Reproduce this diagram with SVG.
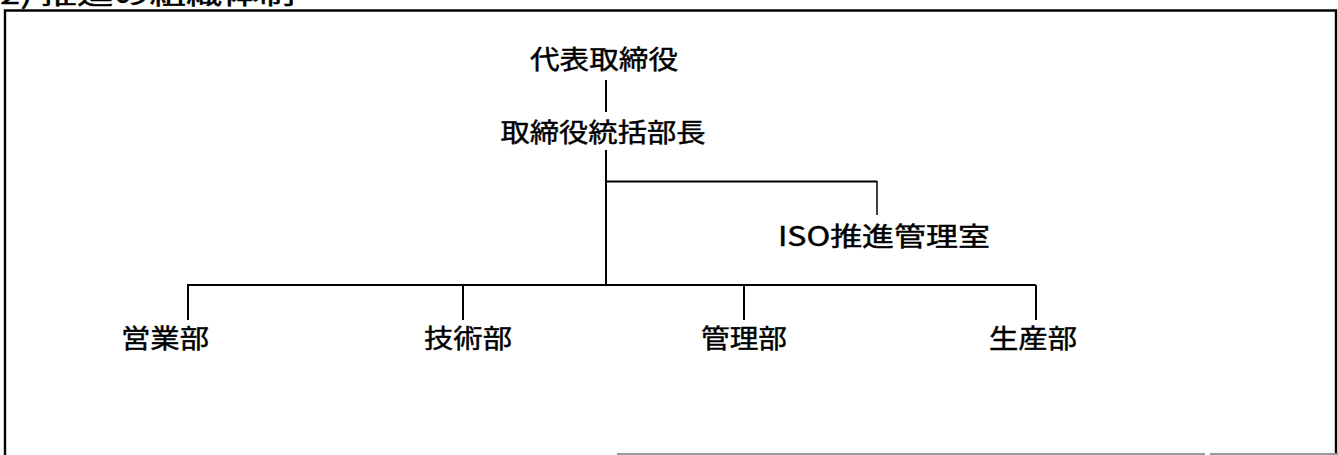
<svg xmlns="http://www.w3.org/2000/svg" width="1338" height="455" viewBox="0 0 1338 455">
<style>
.t{font-family:"Noto Sans CJK JP","Noto Sans CJK SC",sans-serif;font-size:26.5px;fill:#000;stroke:#000;stroke-width:0.45;text-anchor:middle}
.c{stroke:#000;stroke-width:2;fill:none}
.f{stroke:#000;stroke-width:2.4;fill:none}
</style>
<rect width="1338" height="455" fill="#fff"/>
<g id="frame">
<path class="f" d="M5,455 V10.5 H1336 V455"/>
<path d="M617,454 H1205 M1210,454 H1338" stroke="#999" stroke-width="2" fill="none"/>
</g>
<g id="title">
<text class="t" x="0" y="4" style="text-anchor:start" textLength="295" lengthAdjust="spacingAndGlyphs">2) 推進の組織体制</text>
</g>
<g id="connectors">
<path class="c" d="M606,80 V112"/>
<path class="c" d="M606,150 V285"/>
<path class="c" d="M606,181.5 H877"/>
<path d="M877,181 V215" stroke="#000" stroke-width="1.5" fill="none"/>
<path class="c" d="M188,285 H1036"/>
<path class="c" d="M188,284 V320 M463,285 V320 M744,285 V320 M1036,285 V320"/>
</g>
<g id="n-ceo"><text class="t" x="604" y="69" textLength="148" lengthAdjust="spacingAndGlyphs">代表取締役</text></g>
<g id="n-director"><text class="t" x="603" y="142" textLength="205" lengthAdjust="spacingAndGlyphs">取締役統括部長</text></g>
<g id="n-iso"><text class="t" x="884" y="246" textLength="212" lengthAdjust="spacingAndGlyphs">ISO推進管理室</text></g>
<g id="n-sales"><text class="t" x="165" y="348" textLength="88" lengthAdjust="spacingAndGlyphs">営業部</text></g>
<g id="n-tech"><text class="t" x="468" y="348" textLength="88" lengthAdjust="spacingAndGlyphs">技術部</text></g>
<g id="n-admin"><text class="t" x="744" y="348" textLength="86" lengthAdjust="spacingAndGlyphs">管理部</text></g>
<g id="n-prod"><text class="t" x="1033" y="348" textLength="88" lengthAdjust="spacingAndGlyphs">生産部</text></g>
</svg>
